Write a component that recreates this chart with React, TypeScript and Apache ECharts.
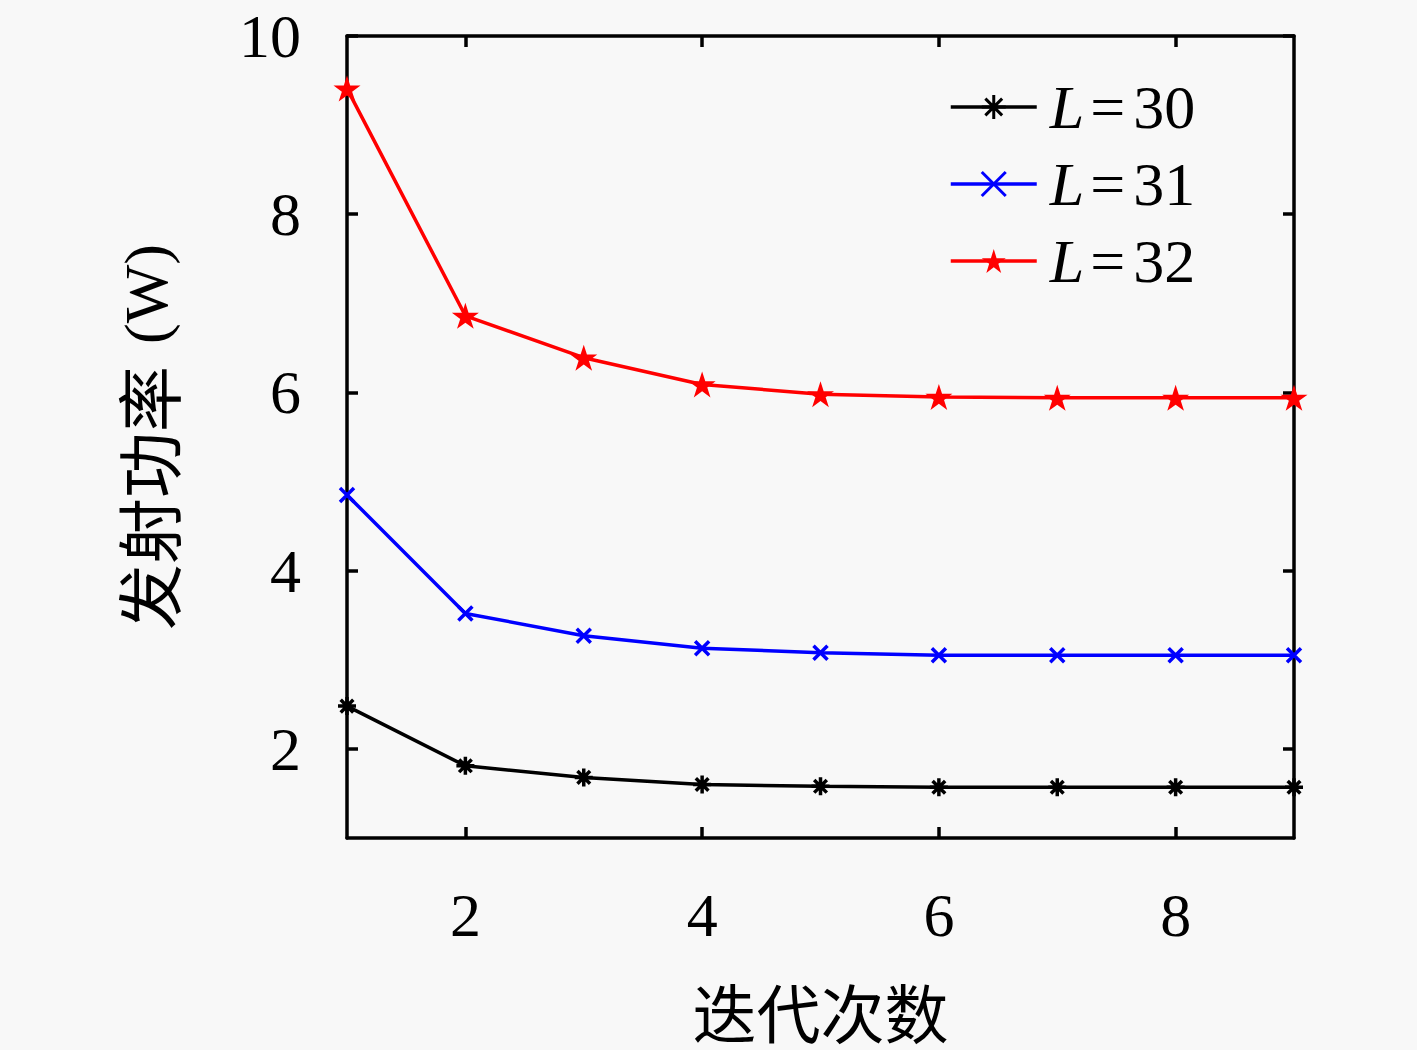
import React, { useEffect, useRef } from "react";
import * as echarts from "echarts";

const iterations = [1, 2, 3, 4, 5, 6, 7, 8, 9];
const seriesNames = ["L=30", "L=31", "L=32"];
const seriesColors = ["#000000", "#0000ff", "#ff0000"];
const powerL30 = [2.48, 1.81, 1.68, 1.6, 1.58, 1.57, 1.57, 1.57, 1.57];
const powerL31 = [4.85, 3.52, 3.27, 3.13, 3.08, 3.05, 3.05, 3.05, 3.05];
const powerL32 = [9.41, 6.86, 6.39, 6.09, 5.98, 5.95, 5.94, 5.94, 5.94];
const xTicks = [2, 4, 6, 8];
const yTicks = [2, 4, 6, 8, 10];
const xAxisName = "迭代次数";
const yAxisName = "发射功率";
const yUnit = "(W)";

const ASTERISK = "path://M0,-10L0,10M-10,0L10,0M-7,-7L7,7M-7,7L7,-7";
const CROSS = "path://M-7,-7L7,7M-7,7L7,-7";
const STAR =
  "path://M0,-100L22.45,-30.9L95.1,-30.9L36.3,11.8L58.8,80.9L0,38.2L-58.8,80.9L-36.3,11.8L-95.1,-30.9L-22.45,-30.9Z";

const SERIF = "'Liberation Serif', 'Times New Roman', serif";
const CJK = "'Noto Sans CJK SC', sans-serif";

export default function App() {
  const ref = useRef<HTMLDivElement>(null);
  useEffect(() => {
    document.body.style.margin = "0";
    const chart = echarts.init(ref.current!, null, { renderer: "svg" });
    const pair = (arr: number[]) => iterations.map((x, i) => [x, arr[i]]);
    const axisLine = { show: true, lineStyle: { color: "#000", width: 3.5 } };
    const axisTickX = { show: true, inside: true, length: 11, lineStyle: { color: "#000", width: 3.5 }, customValues: xTicks };
    const axisTickY = { show: true, inside: true, length: 11, lineStyle: { color: "#000", width: 3.5 }, customValues: yTicks };
    const legendRich = {
      i: { fontFamily: SERIF, fontStyle: "italic", fontSize: 62, color: "#000" },
      e: { fontFamily: SERIF, fontSize: 62, color: "#000", padding: [0, 8, 0, 6] },
      n: { fontFamily: SERIF, fontSize: 62, color: "#000" },
    };
    chart.setOption({
      animation: false,
      backgroundColor: "#f8f8f8",
      grid: { left: 347, right: 123, top: 36, bottom: 212, containLabel: false, outerBoundsMode: "none" },
      legend: {
        left: 944,
        top: 70,
        orient: "vertical",
        itemWidth: 86,
        itemHeight: 30,
        itemGap: 13,
        data: seriesNames.map((n, i) => ({
          name: n,
          itemStyle: { color: seriesColors[i], borderColor: seriesColors[i], borderWidth: i === 2 ? 0 : 3 },
          lineStyle: { color: seriesColors[i], width: 3.5 },
        })),
        formatter: (name: string) => `{i|L}{e|=}{n|${name.slice(2)}}`,
        textStyle: { rich: legendRich, padding: [0, 0, 0, 8], lineHeight: 64 },
      },
      xAxis: [
        {
          type: "value",
          min: 1,
          max: 9,
          position: "bottom",
          axisLine,
          axisTick: axisTickX,
          splitLine: { show: false },
          axisLabel: {
            customValues: xTicks,
            fontFamily: SERIF,
            fontSize: 62,
            color: "#000",
            margin: 46,
          },
          name: xAxisName,
          nameLocation: "middle",
          nameGap: 140,
          nameTextStyle: { fontFamily: CJK, fontSize: 64, lineHeight: 64, color: "#000" },
        },
        {
          type: "value",
          min: 1,
          max: 9,
          position: "top",
          axisLine,
          axisTick: axisTickX,
          splitLine: { show: false },
          axisLabel: { show: false },
        },
      ],
      yAxis: [
        {
          type: "value",
          min: 1,
          max: 10,
          position: "left",
          axisLine,
          axisTick: axisTickY,
          splitLine: { show: false },
          axisLabel: {
            customValues: yTicks,
            fontFamily: SERIF,
            fontSize: 62,
            color: "#000",
            margin: 46,
          },
          name: `{c|${yAxisName}}{u|${yUnit}}`,
          nameLocation: "middle",
          nameGap: 168,
          nameRotate: 90,
          nameTextStyle: {
            rich: {
              c: { fontFamily: CJK, fontSize: 66, color: "#000" },
              u: { fontFamily: SERIF, fontSize: 62, color: "#000", padding: [0, 0, 0, 22] },
            },
          },
        },
        {
          type: "value",
          min: 1,
          max: 10,
          position: "right",
          axisLine,
          axisTick: axisTickY,
          splitLine: { show: false },
          axisLabel: { show: false },
        },
      ],
      series: [
        {
          name: seriesNames[0],
          type: "line",
          data: pair(powerL30),
          symbol: ASTERISK,
          symbolSize: 18,
          lineStyle: { color: "#000", width: 3.5 },
          itemStyle: { color: "#000", borderColor: "#000", borderWidth: 3.5 },
          z: 3,
        },
        {
          name: seriesNames[1],
          type: "line",
          data: pair(powerL31),
          symbol: CROSS,
          symbolSize: 14,
          lineStyle: { color: "#0000ff", width: 3.5 },
          itemStyle: { color: "#0000ff", borderColor: "#0000ff", borderWidth: 3.5 },
          z: 3,
        },
        {
          name: seriesNames[2],
          type: "line",
          data: pair(powerL32),
          symbol: STAR,
          symbolSize: [27, 26],
          lineStyle: { color: "#ff0000", width: 3.5 },
          itemStyle: { color: "#ff0000", borderWidth: 0 },
          z: 3,
        },
      ],
    });
    return () => chart.dispose();
  }, []);
  return <div ref={ref} style={{ width: 1417, height: 1050 }} />;
}
